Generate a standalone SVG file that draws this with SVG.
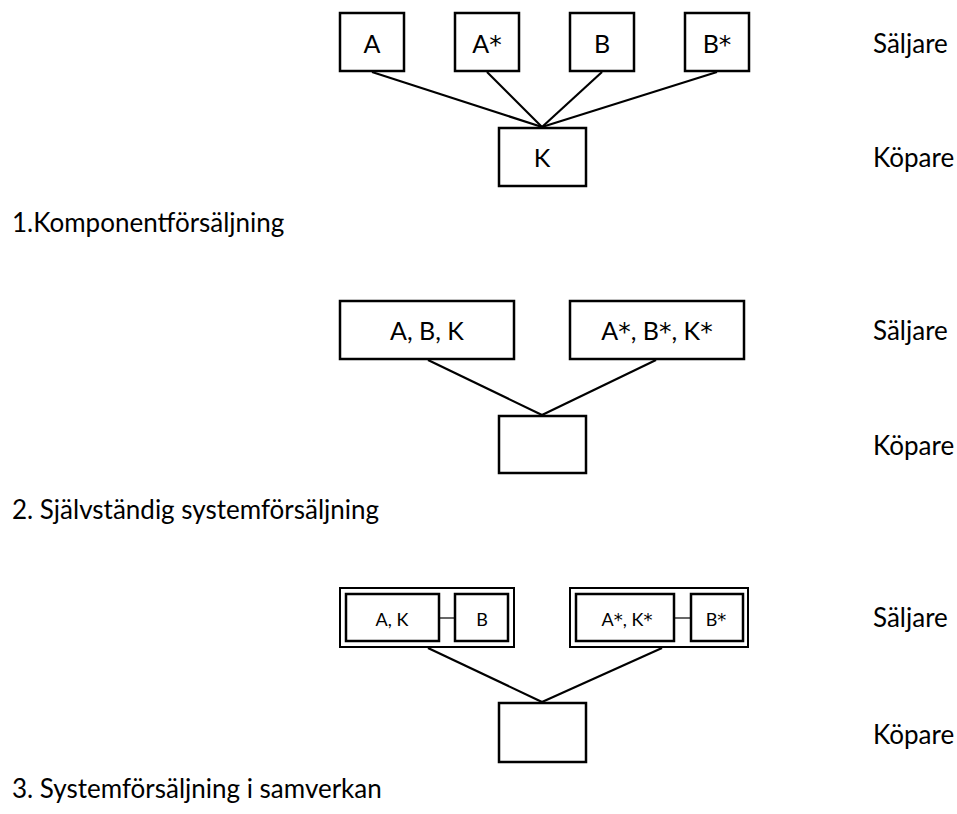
<svg xmlns="http://www.w3.org/2000/svg" width="957" height="814" viewBox="0 0 957 814">
<style>
  .box { fill: #fff; stroke: #000; stroke-width: 2.5; }
  .outer { fill: #fff; stroke: #000; stroke-width: 2; }
  .conn { stroke: #000; stroke-width: 2.2; fill: none; }
  .thin { stroke: #000; stroke-width: 1.2; fill: none; }
  text { font-family: Lato, "Open Sans", sans-serif; fill: #000; }
  .st { font-family: "DejaVu Sans", sans-serif; }
  .lbl { font-size: 25px; text-anchor: middle; }
  .sm { font-size: 18px; text-anchor: middle; }
  .side { font-size: 26px; }
</style>
<rect width="957" height="814" fill="#fff"/>
<g id="s1-A"><rect class="box" x="340" y="13" width="64" height="58"/><text class="lbl" x="372" y="53">A</text></g>
<g id="s1-Astar"><rect class="box" x="455" y="13" width="64" height="58"/><text class="lbl" x="487" y="53">A<tspan class="st">*</tspan></text></g>
<g id="s1-B"><rect class="box" x="570" y="13" width="64" height="58"/><text class="lbl" x="602" y="53">B</text></g>
<g id="s1-Bstar"><rect class="box" x="685" y="13" width="64" height="58"/><text class="lbl" x="717" y="53">B<tspan class="st">*</tspan></text></g>
<g id="s1-K"><rect class="box" x="499" y="128" width="87" height="58"/><text class="lbl" x="542" y="167">K</text></g>

<g id="s2-ABK"><rect class="box" x="340" y="301" width="174" height="58"/><text class="lbl" x="427" y="340">A, B, K</text></g>
<g id="s2-ABKstar"><rect class="box" x="570" y="301" width="174" height="58"/><text class="lbl" x="657" y="340">A<tspan class="st">*</tspan>, B<tspan class="st">*</tspan>, K<tspan class="st">*</tspan></text></g>
<g id="s2-buyer"><rect class="box" x="499" y="416" width="87" height="57"/></g>

<g id="s3-left">
  <rect class="outer" x="340" y="588" width="174" height="59"/>
  <g id="s3-AK"><rect class="box" x="346" y="594" width="93" height="47"/><text class="sm" x="392" y="626">A, K</text></g>
  <g id="s3-B"><rect class="box" x="455" y="594" width="53" height="47"/><text class="sm" x="482" y="626">B</text></g>
</g>
<g id="s3-right">
  <rect class="outer" x="570" y="588" width="178" height="59"/>
  <g id="s3-AKstar"><rect class="box" x="576" y="594" width="98" height="47"/><text class="sm" x="627" y="626">A<tspan class="st">*</tspan>, K<tspan class="st">*</tspan></text></g>
  <g id="s3-Bstar"><rect class="box" x="691" y="594" width="52" height="47"/><text class="sm" x="716" y="626">B<tspan class="st">*</tspan></text></g>
</g>
<g id="s3-buyer"><rect class="box" x="499" y="703" width="87" height="59"/></g>

<g id="connectors">
  <line class="conn" x1="372" y1="72" x2="542" y2="127"/>
  <line class="conn" x1="487" y1="72" x2="542" y2="127"/>
  <line class="conn" x1="602" y1="72" x2="542" y2="127"/>
  <line class="conn" x1="717" y1="72" x2="542" y2="127"/>
  <line class="conn" x1="428" y1="360" x2="542" y2="415"/>
  <line class="conn" x1="656" y1="360" x2="542" y2="415"/>
  <line class="conn" x1="428" y1="648" x2="542" y2="702"/>
  <line class="conn" x1="662" y1="648" x2="542" y2="702"/>
  <line class="thin" x1="440" y1="618" x2="454" y2="618"/>
  <line class="thin" x1="675" y1="618" x2="690" y2="618"/>
</g>

<g id="labels">
  <text class="side" x="873" y="53">Säljare</text>
  <text class="side" x="873" y="167">Köpare</text>
  <text class="side" x="873" y="340">Säljare</text>
  <text class="side" x="873" y="455">Köpare</text>
  <text class="side" x="873" y="627">Säljare</text>
  <text class="side" x="873" y="744">Köpare</text>
  <text class="side" x="12" y="232">1.Komponentförsäljning</text>
  <text class="side" x="12" y="519">2. Självständig systemförsäljning</text>
  <text class="side" x="12" y="798">3. Systemförsäljning i samverkan</text>
</g>
</svg>
